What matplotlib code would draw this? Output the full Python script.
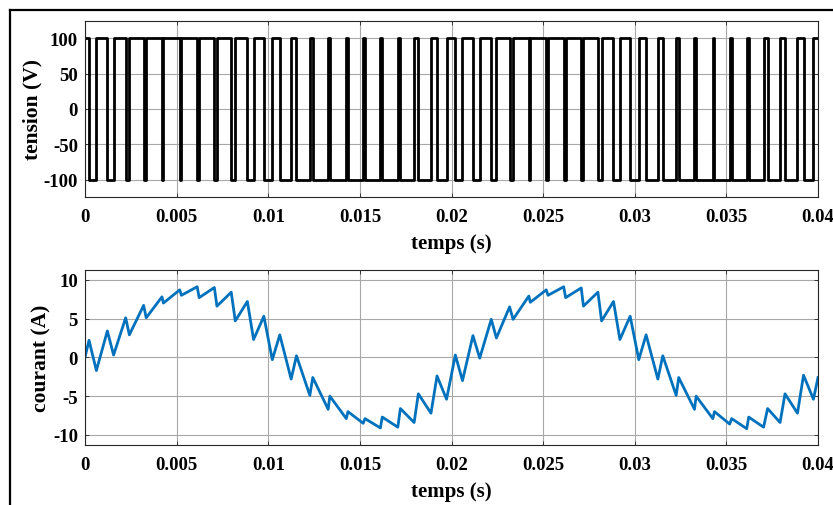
import matplotlib
matplotlib.use("Agg")
import matplotlib.pyplot as plt
from matplotlib.lines import Line2D
import numpy as np

# switching instants of the bipolar PWM inverter (ms): output goes to -100 V at
# t_fall and back to +100 V at t_rise
t_fall = [0.22, 1.22, 2.22, 3.20, 4.20, 5.17, 6.12, 7.06, 7.98, 8.86,
          9.76, 10.63, 11.54, 12.43, 13.36, 14.35, 15.28, 16.22, 17.21, 18.19,
          19.21, 20.21, 21.17, 22.17, 23.17, 24.22, 25.17, 26.12, 27.08, 27.99,
          28.84, 29.75, 30.62, 31.53, 32.40, 33.35, 34.35, 35.29, 36.22, 37.25,
          38.20, 39.21]
t_rise = [0.62, 1.56, 2.42, 3.34, 4.28, 5.26, 6.23, 7.20, 8.20, 9.20,
          10.22, 11.25, 12.27, 13.27, 14.26, 15.18, 16.12, 17.07, 17.96, 18.88,
          19.73, 20.60, 21.54, 22.45, 23.36, 24.30, 25.27, 26.23, 27.20, 28.19,
          29.19, 30.22, 31.26, 32.26, 33.26, 34.26, 35.18, 36.11, 37.03, 37.93,
          38.88, 39.75]

# load current (A) at each switching instant
i_fall = [2.2, 3.4, 5.1, 6.7, 7.8, 8.7, 9.1, 9.0, 8.4, 7.2,
          5.3, 2.9, 0.2, -2.6, -5.0, -7.0, -7.9, -7.7, -6.6, -4.7,
          -2.4, 0.3, 2.8, 4.9, 6.5, 7.9, 8.7, 9.1, 8.95, 8.4,
          7.2, 5.3, 2.9, 0.2, -2.6, -5.0, -7.0, -7.9, -7.7, -6.6,
          -4.7, -2.3]
i_rise = [-1.7, 0.3, 2.9, 5.1, 7.0, 8.0, 7.7, 6.6, 4.7, 2.3,
          -0.3, -2.8, -4.9, -6.7, -7.9, -8.5, -9.1, -9.0, -8.4, -7.2,
          -5.4, -3.0, -0.1, 2.5, 4.9, 7.1, 8.0, 7.7, 6.6, 4.7,
          2.3, -0.3, -2.8, -4.9, -6.7, -7.9, -8.6, -9.2, -9.0, -8.4,
          -7.2, -5.4]
t_end = 40.0
i_start = 0.0
i_end = -2.6
v_high = 100
v_low = -100

xticks = [0, 0.005, 0.01, 0.015, 0.02, 0.025, 0.03, 0.035, 0.04]
xticklabels = ["0", "0.005", "0.01", "0.015", "0.02", "0.025", "0.03", "0.035", "0.04"]
v_ticks = [-100, -50, 0, 50, 100]
i_ticks = [-10, -5, 0, 5, 10]

# interleave the edges
edges = []
i_edges = []
v_states = []
for tf, tr, jf, jr in zip(t_fall, t_rise, i_fall, i_rise):
    edges += [tf, tr]
    i_edges += [jf, jr]
    v_states += [v_low, v_high]

t_all = np.array([0.0] + edges + [t_end]) / 1000.0
v_all = [v_high] + v_states + [v_states[-1]]
i_all = [i_start] + i_edges + [i_end]

plt.rcParams["font.family"] = "Liberation Serif"
plt.rcParams["font.weight"] = "bold"

fig = plt.figure(figsize=(8.33, 5.06), dpi=100)
W, H = 833, 506


def style_axes(ax, yticks, ylabel):
    ax.set_xlim(0, 0.04)
    ax.set_xticks(xticks)
    ax.set_xticklabels(xticklabels)
    ax.set_yticks(yticks)
    ax.set_yticklabels([str(v) for v in yticks])
    ax.grid(True, color="#a8a8a8", linewidth=0.8)
    ax.set_axisbelow(True)
    for s in ax.spines.values():
        s.set_color("#262626")
        s.set_linewidth(0.8)
    ax.tick_params(direction="in", length=3, width=0.6, color="#262626",
                   top=True, right=True, labelsize=13.5)
    ax.tick_params(axis="x", pad=8)
    ax.tick_params(axis="y", pad=5)
    ax.set_xlabel("temps (s)", fontsize=15, fontweight="bold", labelpad=6)
    ax.set_ylabel(ylabel, fontsize=15.5, fontweight="bold", labelpad=1)


ax1 = fig.add_axes([85 / W, 1 - 198 / H, 733 / W, 176 / H])
ax1.plot(t_all, v_all, drawstyle="steps-post", color="black", linewidth=2.0)
ax1.set_ylim(-124, 124)
style_axes(ax1, v_ticks, "tension (V)")

ax2 = fig.add_axes([85 / W, 1 - 446 / H, 733 / W, 175.3 / H])
ax2.plot(t_all, i_all, color="#0072BD", linewidth=2.0)
ax2.set_ylim(-11.3, 11.3)
style_axes(ax2, i_ticks, "courant (A)")

# outer frame (top and left edges)
fig.add_artist(Line2D([10 / W, 10 / W], [0, 1 - 10.5 / H], color="black", linewidth=1.6))
fig.add_artist(Line2D([10 / W, 1], [1 - 10.5 / H, 1 - 10.5 / H], color="black", linewidth=1.6))

fig.savefig("out.png", dpi=100)
